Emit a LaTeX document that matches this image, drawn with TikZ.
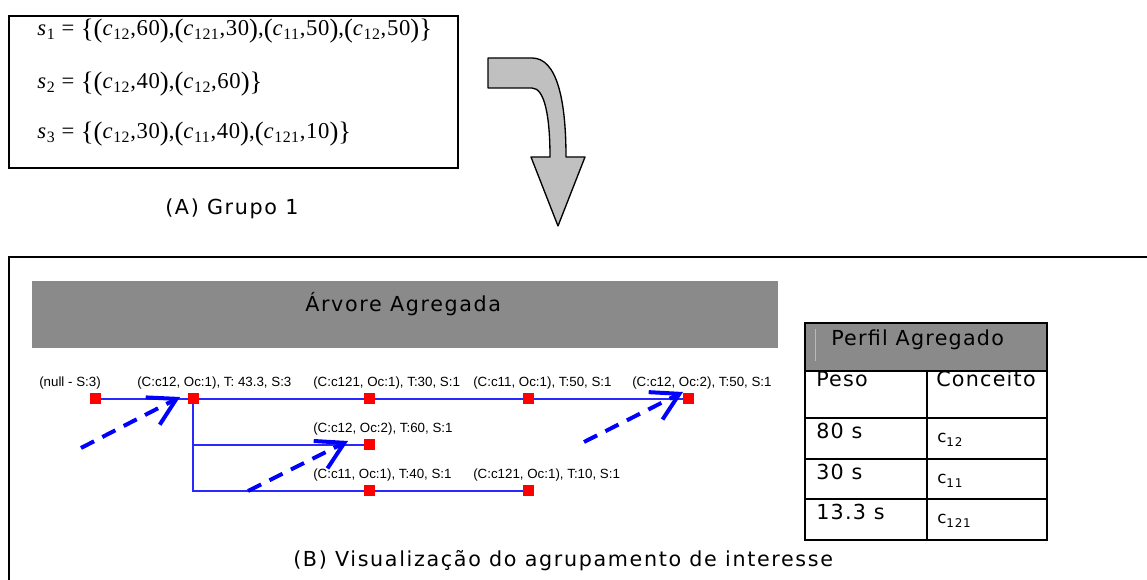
\documentclass[tikz,border=0pt]{standalone}
\usepackage{fontspec}
\setmainfont{DejaVu Sans}
\newfontfamily\uifont[LetterSpace=8]{DejaVu Sans}
\newfontfamily\cellfont[LetterSpace=6]{DejaVu Sans}
\newfontfamily\lblfont{Liberation Sans}
\newfontfamily\eqfont[LetterSpace=3]{Liberation Serif}
\usetikzlibrary{arrows.meta,backgrounds}
\definecolor{bannergray}{RGB}{138,138,138}
\definecolor{arrowgray}{RGB}{192,192,192}
\definecolor{treeblue}{RGB}{40,40,255}
\newcommand\csub[1]{\textit{c}\textsubscript{#1}}
\newcommand\bp[1]{\raisebox{-1.2pt}{\fontsize{20}{20}\selectfont #1}}
\newcommand\tsub[1]{c\raisebox{-0.4ex}{\fontsize{9}{9}\selectfont #1}}
\begin{document}
\begin{tikzpicture}[x=0.75pt,y=-0.75pt,
  frame/.style={draw=black,line width=1.5pt},
  eqline/.style={anchor=base west,inner sep=0,font=\eqfont\fontsize{17}{17}\selectfont},
  caption/.style={anchor=base west,inner sep=0,font=\uifont\fontsize{15.5}{15.5}\selectfont},
  treenode/.style={fill=red,minimum size=8.25pt,inner sep=0,outer sep=0},
  treelabel/.style={anchor=base west,inner sep=0,font=\lblfont\fontsize{10}{12}\selectfont},
  treeedge/.style={draw=treeblue,line width=1pt},
  hint/.style={draw=blue,line width=3pt,dash pattern=on 11pt off 7pt,-{Straight Barb[length=20pt,width=23pt,line width=3pt]}},
  cellline/.style={draw=black,line width=1.5pt},
  celltext/.style={anchor=base west,inner sep=0,font=\cellfont\fontsize{15.5}{15.5}\selectfont},
  conctext/.style={anchor=base west,inner sep=0,font=\cellfont\fontsize{12.5}{12.5}\selectfont},
]
\useasboundingbox (0,0) rectangle (1147,580);

% (A) group box
\draw[frame] (9,16) rectangle (458,168);
\node[eqline] (s1) at (37,36) {\textit{s}\textsubscript{1} = \bp{\{}\bp{(}\csub{12},60\bp{)},\bp{(}\csub{121},30\bp{)},\bp{(}\csub{11},50\bp{)},\bp{(}\csub{12},50\bp{)}\bp{\}}};
\node[eqline] (s2) at (37,89) {\textit{s}\textsubscript{2} = \bp{\{}\bp{(}\csub{12},40\bp{)},\bp{(}\csub{12},60\bp{)}\bp{\}}};
\node[eqline] (s3) at (37,139) {\textit{s}\textsubscript{3} = \bp{\{}\bp{(}\csub{12},30\bp{)},\bp{(}\csub{11},40\bp{)},\bp{(}\csub{121},10\bp{)}\bp{\}}};
\node[caption] (capA) at (165,215) {(A) Grupo 1};

% curved block arrow
\draw[fill=arrowgray,line width=1pt,line join=round]
  (488,58) -- (532,58) .. controls (557,58) and (566,100) .. (566,157)
  -- (585,157) -- (558,226) -- (531,157) -- (550,157)
  .. controls (550,118) and (545,88) .. (532,88) -- (488,88) -- cycle;

% (B) frame
\draw[frame] (9,600) -- (9,257) -- (1160,257);

% banner
\fill[bannergray] (32,281) rectangle (778,348);
\node[caption] (title) at (305,312) {Árvore Agregada};

% tree nodes
\node[treenode] (n0) at (95,399) {};
\node[treenode] (n1) at (193,399) {};
\node[treenode] (n2) at (369,399) {};
\node[treenode] (n3) at (528,399) {};
\node[treenode] (n4) at (688,399) {};
\node[treenode] (n5) at (369,445) {};
\node[treenode] (n6) at (369,491) {};
\node[treenode] (n7) at (528,491) {};
\begin{scope}[on background layer]
\draw[treeedge] (n0.center) -- (n1.center) -- (n2.center) -- (n3.center) -- (n4.center);
\draw[treeedge] (n1.center) -- (n1.center |- n6.center) -- (n6.center) -- (n7.center);
\draw[treeedge] (n1.center |- n5.center) -- (n5.center);
\end{scope}

% tree labels
\node[treelabel] (l0) at (39,387) {(null - S:3)};
\node[treelabel] (l1) at (137,387) {(C:c12, Oc:1), T: 43.3, S:3};
\node[treelabel] (l2) at (313,387) {(C:c121, Oc:1), T:30, S:1};
\node[treelabel] (l3) at (473,387) {(C:c11, Oc:1), T:50, S:1};
\node[treelabel] (l4) at (632,387) {(C:c12, Oc:2), T:50, S:1};
\node[treelabel] (l5) at (313,433) {(C:c12, Oc:2), T:60, S:1};
\node[treelabel] (l6) at (313,479) {(C:c11, Oc:1), T:40, S:1};
\node[treelabel] (l7) at (473,479) {(C:c121, Oc:1), T:10, S:1};

% dashed hint arrows
\coordinate (h1s) at (81,448);
\coordinate (h1e) at (180,397);
\coordinate (h2s) at (248,491);
\coordinate (h2e) at (348,441);
\coordinate (h3s) at (584,442);
\coordinate (h3e) at (683,392);
\draw[hint] (h1s) -- (h1e);
\draw[hint] (h2s) -- (h2e);
\draw[hint] (h3s) -- (h3e);

% profile table
\fill[bannergray] (805,323) rectangle (1047,371);
\draw[gray!55,line width=0.75pt] (815,329) -- (815,361);
\draw[cellline] (805,323) rectangle (1047,540);
\draw[cellline] (805,371) -- (1047,371);
\draw[cellline] (805,418) -- (1047,418);
\draw[cellline] (805,459) -- (1047,459);
\draw[cellline] (805,499) -- (1047,499);
\draw[cellline] (927,371) -- (927,540);
\node[celltext] (th) at (831,346) {Perfil Agregado};
\node[celltext] (peso) at (816,387) {Peso};
\node[celltext] (conc) at (936,387) {Conceito};
\node[celltext] (w1) at (816,439) {80 s};
\node[celltext] (w2) at (816,480) {30 s};
\node[celltext] (w3) at (816,520) {13.3 s};
\node[conctext] (c1) at (937,443) {\tsub{12}};
\node[conctext] (c2) at (937,484) {\tsub{11}};
\node[conctext] (c3) at (937,524) {\tsub{121}};

\node[caption] (capB) at (293,567) {(B) Visualização do agrupamento de interesse};
\end{tikzpicture}
\end{document}
